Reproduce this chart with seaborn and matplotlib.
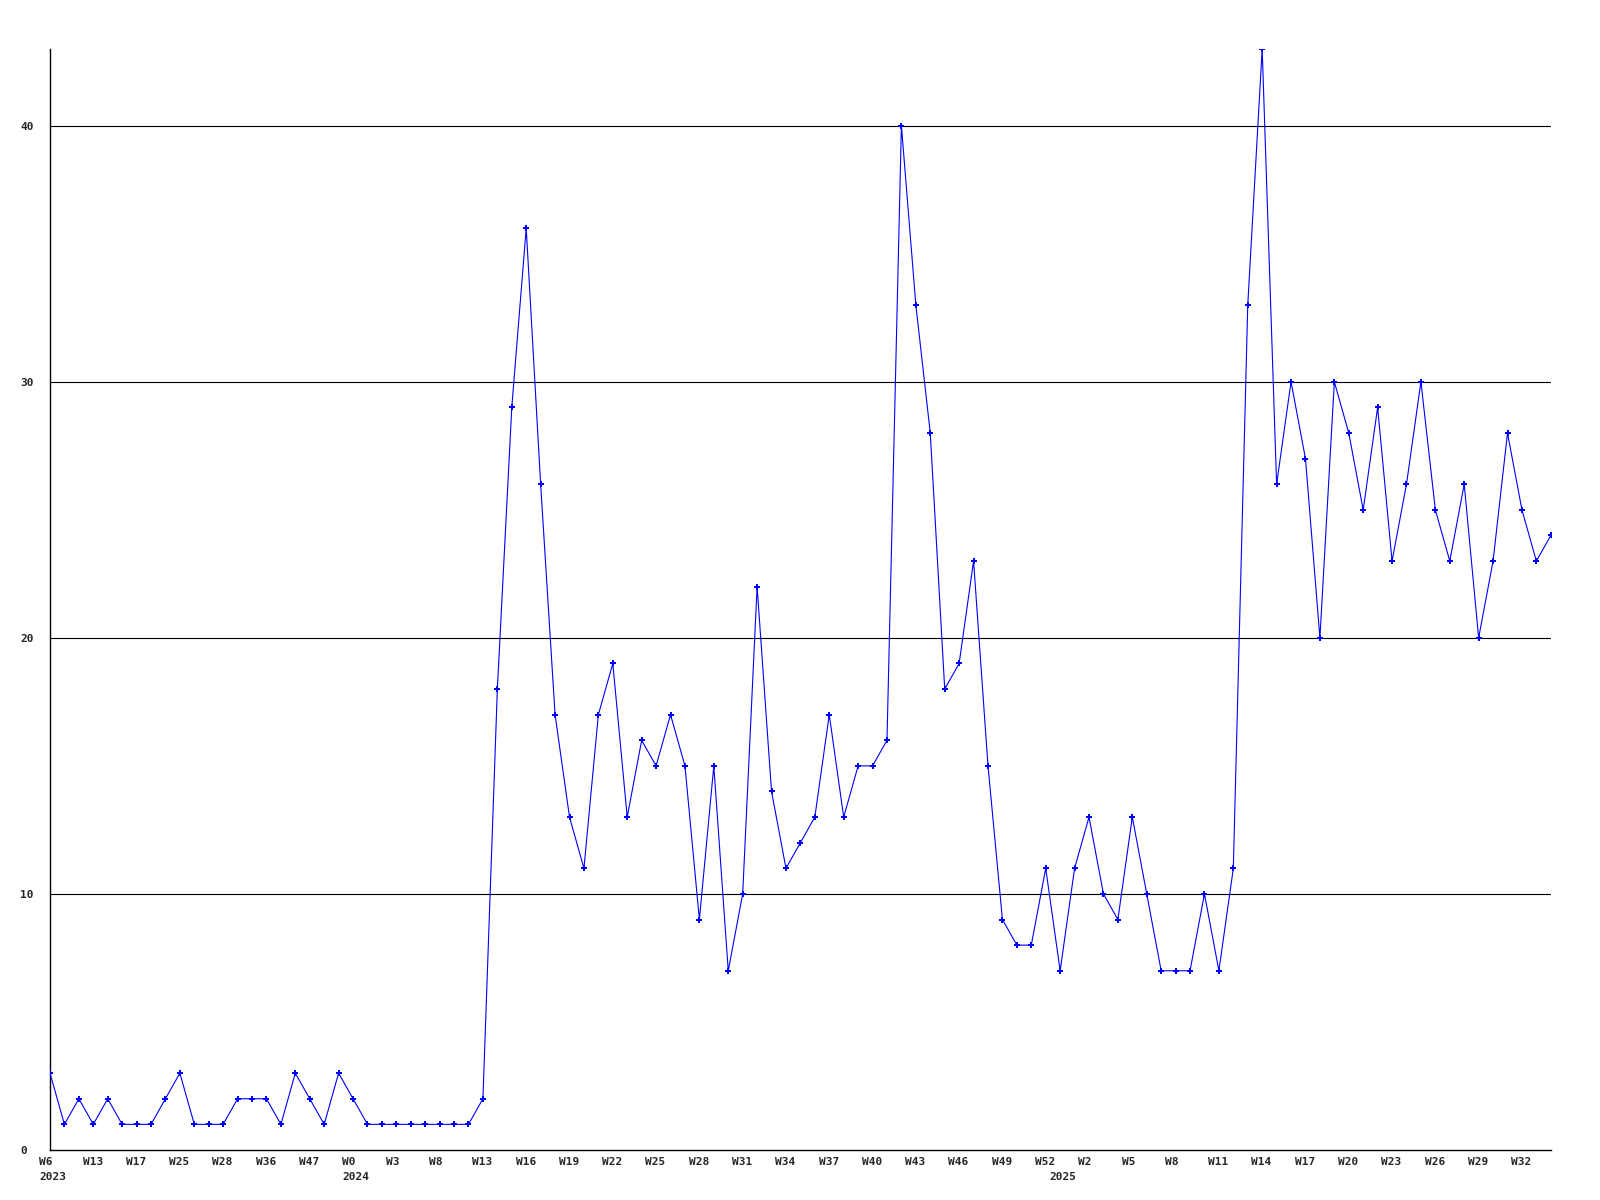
import numpy as np
import pandas as pd
import seaborn as sns
import matplotlib.pyplot as plt
from matplotlib import transforms

# weekly counts
counts = [3, 1, 2, 1, 2, 1, 1, 1, 2, 3, 1, 1, 1, 2, 2, 2, 1, 3, 2, 1,
          3, 2, 1, 1, 1, 1, 1, 1, 1, 1, 2, 18, 29, 36, 26, 17, 13, 11, 17, 19,
          13, 16, 15, 17, 15, 9, 15, 7, 10, 22, 14, 11, 12, 13, 17, 13, 15, 15, 16, 40,
          33, 28, 18, 19, 23, 15, 9, 8, 8, 11, 7, 11, 13, 10, 9, 13, 10, 7, 7, 7,
          10, 7, 11, 33, 43, 26, 30, 27, 20, 30, 28, 25, 29, 23, 26, 30, 25, 23, 26, 20,
          23, 28, 25, 23, 24]

# labelled week positions and their labels
tick_pos = [0, 3, 6, 9, 12, 15, 18, 21, 24, 27, 30, 33, 36, 39, 42, 45, 48, 51,
            54, 57, 60, 63, 66, 69, 72, 75, 78, 81, 84, 87, 90, 93, 96, 99, 102]
tick_labels = ['W6', 'W13', 'W17', 'W25', 'W28', 'W36', 'W47', 'W0', 'W3', 'W8',
               'W13', 'W16', 'W19', 'W22', 'W25', 'W28', 'W31', 'W34', 'W37', 'W40',
               'W43', 'W46', 'W49', 'W52', 'W2', 'W5', 'W8', 'W11', 'W14', 'W17',
               'W20', 'W23', 'W26', 'W29', 'W32']

# where each year starts
year_pos = [0, 21, 70]
year_labels = ['2023', '2024', '2025']

sns.set_style('white')
plt.rcParams['font.family'] = ['DejaVu Sans Mono']
plt.rcParams['font.weight'] = 'bold'

df = pd.DataFrame({'week': np.arange(len(counts)), 'count': counts})

fig = plt.figure(figsize=(16, 12), dpi=100)
ax = fig.add_axes([0.03125, 0.0417, 0.938, 0.9175])

for y in [10, 20, 30, 40]:
    ax.axhline(y, color='black', lw=0.8, zorder=1)

sns.lineplot(x='week', y='count', data=df, color='#0000ff', lw=0.8,
             marker='P', markersize=4, markeredgewidth=0, ax=ax, zorder=3)

ax.set_xlim(0, len(counts) - 1)
ax.set_ylim(0, 43)
ax.set_xlabel('')
ax.set_ylabel('')

for side in ['top', 'right']:
    ax.spines[side].set_visible(False)
for side in ['left', 'bottom']:
    ax.spines[side].set_color('black')
    ax.spines[side].set_linewidth(1)

ax.set_yticks([0, 10, 20, 30, 40])
ax.tick_params(axis='y', length=0, pad=21.6, labelsize=8)
for lab in ax.get_yticklabels():
    lab.set_ha('left')

ax.set_xticks(tick_pos)
ax.set_xticklabels(tick_labels)
ax.tick_params(axis='x', length=0, pad=5, labelsize=8)
shift = transforms.ScaledTranslation(-0.107, 0, fig.dpi_scale_trans)
for lab in ax.get_xticklabels():
    lab.set_ha('left')
    lab.set_transform(lab.get_transform() + shift)

trans = transforms.blended_transform_factory(ax.transData, ax.transAxes) + shift
for xp, yl in zip(year_pos, year_labels):
    ax.text(xp, -0.02, yl, transform=trans, ha='left', va='top',
            fontsize=8, fontweight='bold')

fig.savefig('out.png', dpi=100)
